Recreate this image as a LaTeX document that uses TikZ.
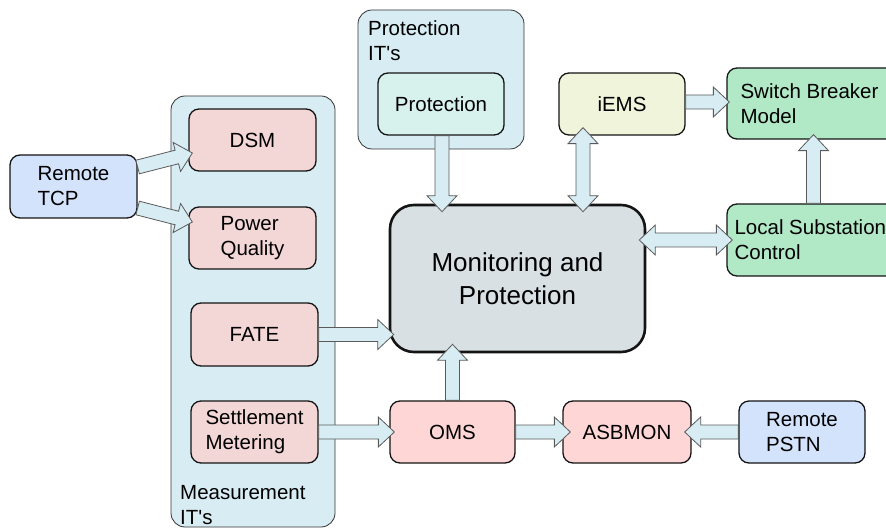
\documentclass[tikz,border=0pt]{standalone}
\usepackage{fontspec}
\setmainfont{Liberation Sans}[Ligatures=TeXOff]
\usetikzlibrary{calc}

\definecolor{groupfill}{HTML}{D7EDF3}
\definecolor{arrowfill}{HTML}{D7EDF3}
\definecolor{arrowline}{HTML}{5A5A5A}
\definecolor{measfill}{HTML}{F3D6D6}
\definecolor{omsfill}{HTML}{FFD6D6}
\definecolor{remotefill}{HTML}{D4E3FC}
\definecolor{iemsfill}{HTML}{EFF4DA}
\definecolor{greenfill}{HTML}{B1E8C6}
\definecolor{monfill}{HTML}{D8E0E3}
\definecolor{protfill}{HTML}{D7F2ED}

% block arrow dimensions
\newcommand\arsw{7pt}   % half shaft width
\newcommand\arhw{15pt}  % half head width
\newcommand\arhl{16pt}  % head length

% single-headed block arrow, tip at #2
\newcommand\fatarrow[2]{%
  \path (#1) coordinate (fas) (#2) coordinate (fat);
  \path ($(fat)!\arhl!(fas)$) coordinate (fah);
  \draw[fatstyle] ($(fas)!\arsw!90:(fat)$) -- ($(fah)!\arsw!90:(fat)$)
    -- ($(fah)!\arhw!90:(fat)$) -- (fat) -- ($(fah)!\arhw!-90:(fat)$)
    -- ($(fah)!\arsw!-90:(fat)$) -- ($(fas)!\arsw!-90:(fat)$) -- cycle;
}
% double-headed block arrow
\newcommand\fatdarrow[2]{%
  \path (#1) coordinate (fas) (#2) coordinate (fat);
  \path ($(fas)!\arhl!(fat)$) coordinate (fha) ($(fat)!\arhl!(fas)$) coordinate (fhb);
  \draw[fatstyle] (fas) -- ($(fha)!\arhw!90:(fat)$) -- ($(fha)!\arsw!90:(fat)$)
    -- ($(fhb)!\arsw!90:(fat)$) -- ($(fhb)!\arhw!90:(fat)$) -- (fat)
    -- ($(fhb)!\arhw!-90:(fat)$) -- ($(fhb)!\arsw!-90:(fat)$)
    -- ($(fha)!\arsw!-90:(fat)$) -- ($(fha)!\arhw!-90:(fat)$) -- cycle;
}

\tikzset{
  sz/.style 2 args={minimum width=#1pt, minimum height=#2pt},
  fatstyle/.style={fill=arrowfill, draw=arrowline, line width=0.8pt, line join=miter},
  group/.style={draw=black!80, line width=0.8pt, fill=groupfill, rounded corners=14pt, inner sep=0pt},
  unit/.style={draw=black!92, line width=1.3pt, rounded corners=10pt, inner sep=0pt,
    font=\fontsize{20.5}{25}\selectfont, align=left},
  grouplabel/.style={inner sep=0pt, anchor=north west, align=left, font=\fontsize{20.5}{25}\selectfont},
  sidelabel/.style={inner sep=0pt, anchor=west, align=left, font=\fontsize{20.5}{25}\selectfont},
}

\begin{document}
\begin{tikzpicture}[x=1pt,y=-1pt]
\useasboundingbox (0,0) rectangle (886,529);
\clip (0,0) rectangle (886,529);

% grouping panels
\node[group, sz={164}{431}] (measgrp) at (253,311.5) {};
\node[group, sz={166}{139}] (protgrp) at (441,79.5) {};
\node[grouplabel] (measlbl) at (180,485) {Measurement\\IT's};
\node[grouplabel] (protlbl) at (368,20) {Protection\\IT's};

% units
\node[unit, fill=remotefill, sz={127}{63}] (tcp)  at (73.5,186.5) {Remote\\TCP};
\node[unit, fill=measfill,   sz={127}{62}] (dsm)  at (252.5,140)  {DSM};
\node[unit, fill=measfill,   sz={127}{62}] (pq)   at (252.5,238)  {Power\\Quality};
\node[unit, fill=measfill,   sz={127}{63}] (fate) at (254.5,334.5) {FATE};
\node[unit, fill=measfill,   sz={127}{62}] (sett) at (254.5,432)  {Settlement\\Metering};
\node[unit, fill=protfill,   sz={126}{62}] (prot) at (441,104)    {Protection};
\node[unit, fill=iemsfill,   sz={126}{62}] (iems) at (622,104)    {iEMS};
\node[unit, fill=greenfill,  sz={173}{71}] (sw)   at (813.5,103.5) {};
\node[sidelabel] (swlbl) at ($(sw.west)+(14,0)$) {Switch Breaker\\Model};
\node[unit, fill=greenfill,  sz={173}{72}] (lsc)  at (813.5,240)  {};
\node[sidelabel] (lsclbl) at ($(lsc.west)+(8,0)$) {Local Substation\\Control};
\node[unit, fill=monfill, line width=2.6pt, rounded corners=24pt, sz={255}{147},
      align=center, font=\fontsize{26}{33}\selectfont] (mon) at (517.5,278.5) {Monitoring and\\Protection};
\node[unit, fill=omsfill,    sz={125}{62}] (oms)  at (452.5,432)  {OMS};
\node[unit, fill=omsfill,    sz={128}{62}] (asb)  at (627,432)    {ASBMON};
\node[unit, fill=remotefill, sz={126}{62}] (pstn) at (802,432)    {Remote\\PSTN};

% block arrows
\fatarrow{$(tcp.east)+(0,-19.5)$}{$(dsm.west)+(4,13)$}
\fatarrow{$(tcp.east)+(0,21.5)$}{$(pq.west)+(4,-16)$}
\fatarrow{$(prot.south)+(1,0)$}{$(prot.south |- mon.north)+(1,8)$}
\fatdarrow{$(iems.south)+(-39,-8)$}{$(iems.south |- mon.north)+(-39,8)$}
\fatarrow{$(iems.east)+(0,-2)$}{$(sw.west)+(3,-1.5)$}
\fatarrow{lsc.north}{$(lsc.north |- sw.south)+(0,-5)$}
\fatdarrow{$(mon.east)+(-7,-38.5)$}{$(lsc.west)+(6,0)$}
\fatarrow{fate.east}{$(fate.east -| mon.west)+(5,0)$}
\fatarrow{sett.east}{$(sett.east -| oms.west)+(5,0)$}
\fatarrow{oms.north}{$(oms.north |- mon.south)+(0,-9)$}
\fatarrow{oms.east}{$(asb.west)+(8,0)$}
\fatarrow{pstn.west}{$(asb.east)+(-7,0)$}
\end{tikzpicture}
\end{document}
